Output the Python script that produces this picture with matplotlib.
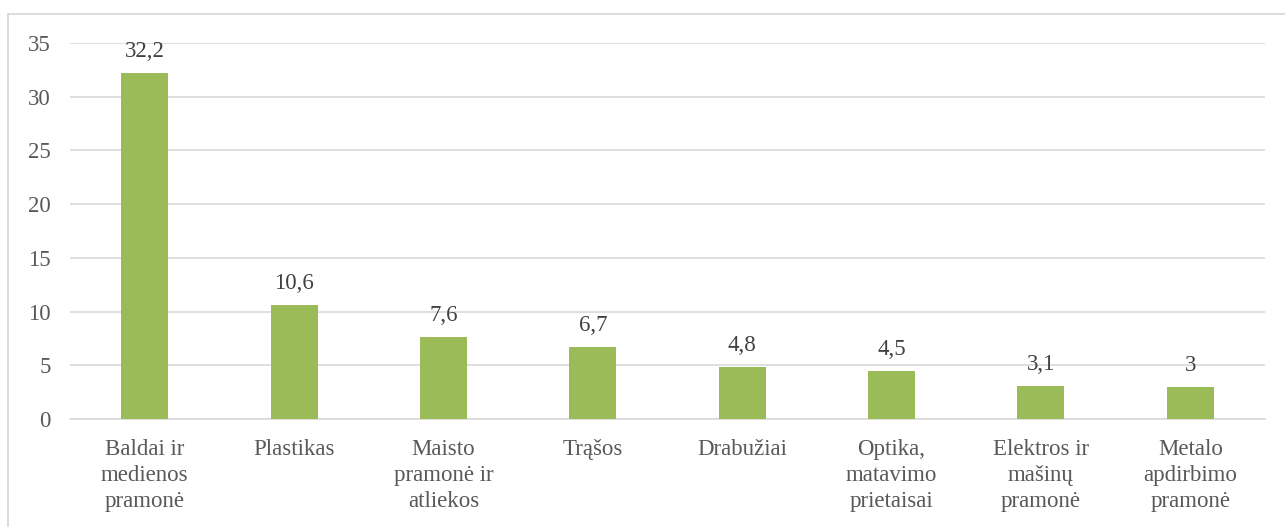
import matplotlib
matplotlib.use("Agg")
import matplotlib.pyplot as plt
from matplotlib.lines import Line2D

categories = ["Baldai ir\nmedienos\npramonė", "Plastikas", "Maisto\npramonė ir\natliekos",
              "Trąšos", "Drabužiai", "Optika,\nmatavimo\nprietaisai",
              "Elektros ir\nmašinų\npramonė", "Metalo\napdirbimo\npramonė"]
values = [32.2, 10.6, 7.6, 6.7, 4.8, 4.5, 3.1, 3.0]
value_labels = ["32,2", "10,6", "7,6", "6,7", "4,8", "4,5", "3,1", "3"]
yticks = [0, 5, 10, 15, 20, 25, 30, 35]

plt.rcParams['font.family'] = ['Liberation Serif', 'DejaVu Serif']
W, H = 1285, 527
fig = plt.figure(figsize=(W/100, H/100), dpi=100)
border = '#D9D9D9'
fig.lines.append(Line2D([7.5/W, 7.5/W], [0, (H-13.5)/H], transform=fig.transFigure,
                        color=border, linewidth=1.3))
fig.lines.append(Line2D([7.5/W, 1], [(H-13.5)/H, (H-13.5)/H], transform=fig.transFigure,
                        color=border, linewidth=1.3))
ax = fig.add_axes([70/W, (H-419)/H, (1265-70)/W, (419-43)/H])
x = range(len(categories))
ax.bar(x, values, width=0.315, color='#9BBB59', zorder=3)
ax.set_xlim(-0.5, len(categories)-0.5)
ax.set_ylim(0, 35)
ax.set_yticks(yticks)
ax.set_yticklabels([str(t) for t in yticks])
ax.yaxis.grid(True, color='#D9D9D9', linewidth=1.2, zorder=0)
for s in ['left', 'right', 'top']:
    ax.spines[s].set_visible(False)
ax.spines['bottom'].set_color('#D9D9D9')
ax.spines['bottom'].set_linewidth(1.2)
ax.tick_params(axis='both', length=0, labelsize=16.5, colors='#595959')
ax.tick_params(axis='x', pad=14.5)
ax.tick_params(axis='y', pad=14)
ax.set_xticks(list(x))
ax.set_xticklabels(categories, linespacing=1.3, va='top')
for i, (v, lab) in enumerate(zip(values, value_labels)):
    ax.annotate(lab, (i, v), xytext=(0, 8), textcoords='offset points', ha='center',
                va='bottom', fontsize=16.5, color='#404040')
fig.savefig("out.png", dpi=100)
